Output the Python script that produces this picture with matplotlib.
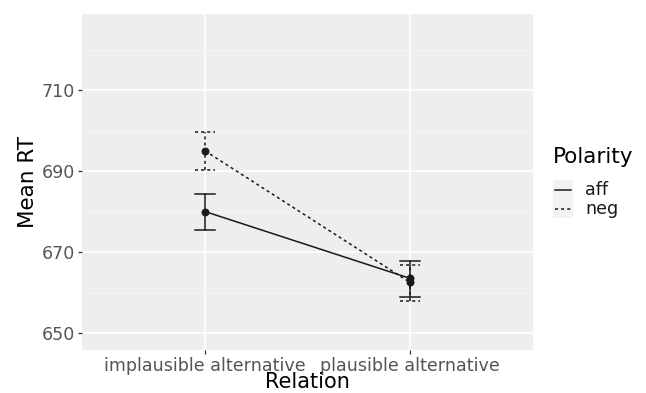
import numpy as np
import matplotlib.pyplot as plt
from matplotlib.lines import Line2D
from matplotlib.patches import Rectangle

# --------------------------------------------------------------------------------
# Data
# --------------------------------------------------------------------------------

relations = ["implausible alternative", "plausible alternative"]
polarity = ["aff", "neg"]
mean_aff = [680.0, 663.5]
mean_neg = [695.0, 662.5]
lower_aff = [675.5, 659.0]
upper_aff = [684.4, 667.9]
lower_neg = [690.3, 657.8]
upper_neg = [699.7, 666.9]

# --------------------------------------------------------------------------------
# Visualization
# --------------------------------------------------------------------------------

W, H = 646, 393
fig = plt.figure(figsize = (W / 100, H / 100), dpi = 100)
ax = fig.add_axes([82 / W, 1 - 350 / H, (533 - 82) / W, (350 - 14) / H])
ax.set_facecolor("#EEEEEE")

x = np.arange(1, len(relations) + 1)
ink = "#1a1a1a"
styles = {"aff": "-", "neg": (0, (2, 2))}
series = {
    "aff": (mean_aff, lower_aff, upper_aff),
    "neg": (mean_neg, lower_neg, upper_neg),
}

for name in polarity:
    m, lo, hi = series[name]
    ax.plot(x, m, color = ink, linestyle = styles[name], linewidth = 1.1, zorder = 3)
    for xi, l, h in zip(x, lo, hi):
        for yv in (l, h):
            ax.plot([xi - 0.05, xi + 0.05], [yv, yv], color = ink, linestyle = styles[name],
                    linewidth = 1.1, zorder = 3)
        ax.plot([xi, xi], [l, h], color = ink, linestyle = styles[name], linewidth = 1.1, zorder = 3)
    ax.scatter(x, m, s = 22, color = ink, zorder = 4)

ax.set_xlim(0.4, 2.6)
ax.set_ylim(645.8, 728.8)
ax.set_xticks(x)
ax.set_xticklabels(relations)
ax.set_yticks([650, 670, 690, 710])
ax.set_yticks([660, 680, 700, 720], minor = True)
ax.grid(which = "major", color = "white", linewidth = 1.2)
ax.grid(which = "minor", axis = "y", color = "#F7F7F7", linewidth = 0.6)
ax.set_axisbelow(True)
for s in ax.spines.values():
    s.set_visible(False)
ax.tick_params(which = "major", colors = "#333333", labelcolor = "#555555",
               labelsize = 12.6, length = 3, width = 0.9, pad = 2)
ax.tick_params(which = "minor", length = 0)
ax.set_xlabel("Relation", fontsize = 15, color = "black", labelpad = -2)
ax.set_ylabel("Mean RT", fontsize = 15.5, color = "black", labelpad = 3)

# legend drawn in pixel positions
fig.text(553 / W, 1 - 157 / H, "Polarity", fontsize = 15.5, va = "center", ha = "left")
fig.add_artist(Rectangle((553 / W, 1 - 218 / H), 20 / W, 38 / H, transform = fig.transFigure,
                         facecolor = "#F2F2F2", edgecolor = "none"))
for i, p in enumerate(polarity):
    yk = 1 - (190 + 19 * i) / H
    fig.add_artist(Line2D([555 / W, 571 / W], [yk, yk], transform = fig.transFigure,
                          color = ink, linestyle = styles[p], linewidth = 1.1))
    fig.text(585 / W, yk, p, fontsize = 12.6, va = "center", ha = "left", color = "#1a1a1a")

plt.savefig("out.png", dpi = 100)
plt.close()
